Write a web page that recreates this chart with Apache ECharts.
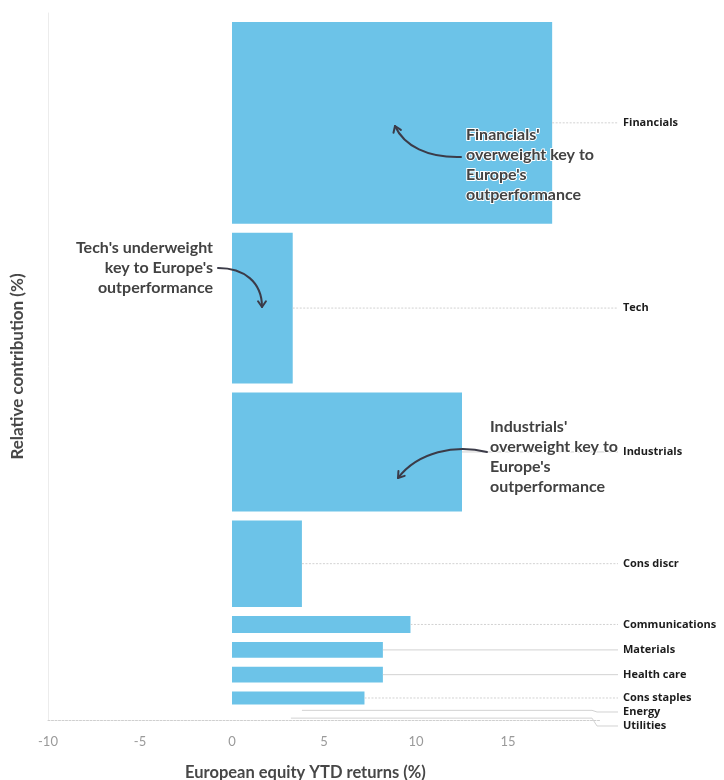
<!DOCTYPE html>
<html>
<head>
<meta charset="utf-8">
<style>
  html, body { margin: 0; padding: 0; background: #fff; }
  #chart { width: 724px; height: 780px; }
</style>
<script src="https://cdn.jsdelivr.net/npm/echarts@6/dist/echarts.min.js"></script>
</head>
<body>
<div id="chart"></div>
<script>
// Data
const sectors = ['Financials', 'Tech', 'Industrials', 'Cons discr', 'Communications', 'Materials', 'Health care', 'Cons staples', 'Energy', 'Utilities'];
const contribution = [29.8, 22.6, 18.1, 13.5, 3.7, 3.5, 3.5, 3.1, 1.1, 1.1]; // Relative contribution (%) -> bar thickness
const ytdReturns = [17.4, 3.3, 12.5, 3.8, 9.7, 8.2, 8.2, 7.2, 3.8, 3.2];     // European equity YTD returns (%)
const dottedLeaders = ['Financials', 'Tech', 'Cons discr', 'Communications', 'Cons staples'];

// Build [start, end, return, index] rows
const rows = [];
let cum = 0;
for (let i = 0; i < sectors.length; i++) {
  rows.push([cum, cum + contribution[i], ytdReturns[i], i]);
  cum += contribution[i];
}

const chart = echarts.init(document.getElementById('chart'));
const FONT = 'Lato, "Open Sans", sans-serif';
const BAR = '#6cc3e8';
const GAP = 9;
const LEADER_END = 618;
let lastLabelY = -Infinity;

function renderItem(params, api) {
  if (params.dataIndex === 0) lastLabelY = -Infinity;
  const start = api.value(0), end = api.value(1), ret = api.value(2);
  const idx = api.value(3);
  const yTop = api.coord([0, start])[1] + GAP;
  const yBot = api.coord([0, end])[1];
  const x0 = api.coord([0, 0])[0];
  const x1 = api.coord([ret, 0])[0];
  const children = [];
  const h = yBot - yTop;
  let cy;
  if (h > 1) {
    children.push({ type: 'rect', shape: { x: x0, y: yTop, width: x1 - x0, height: h }, style: { fill: BAR } });
    cy = (yTop + yBot) / 2;
  } else {
    cy = (api.coord([0, start])[1] + yBot) / 2 + 2;
  }
  const labelY = Math.max(cy, lastLabelY + 14);
  lastLabelY = labelY;
  const dotted = dottedLeaders.indexOf(sectors[idx]) >= 0;
  const lineStyle = { stroke: '#d2d2d2', lineWidth: 1, lineDash: dotted ? [2, 1.5] : null, fill: null };
  let pts;
  if (Math.abs(labelY - cy) < 0.5) {
    pts = [[x1, cy], [LEADER_END, cy]];
  } else {
    pts = [[x1, cy], [592, cy], [597, labelY], [LEADER_END, labelY]];
  }
  children.push({ type: 'polyline', shape: { points: pts }, style: lineStyle, z2: 1 });
  children.push({
    type: 'text',
    style: { x: 623, y: labelY, text: sectors[idx], fill: '#1c1c1c', font: 'bold 11px "Open Sans", Lato, sans-serif', verticalAlign: 'middle', align: 'left' }
  });
  return { type: 'group', children: children };
}

function arrowHead(x, y, angleDeg, size) {
  const a = angleDeg * Math.PI / 180;
  const s = size || 6;
  const p1 = [x - s * Math.cos(a - 0.6), y - s * Math.sin(a - 0.6)];
  const p2 = [x - s * Math.cos(a + 0.6), y - s * Math.sin(a + 0.6)];
  return {
    type: 'polyline', z: 10,
    shape: { points: [p1, [x, y], p2] },
    style: { stroke: '#3b3b48', lineWidth: 2, fill: null, lineJoin: 'round', lineCap: 'round' }
  };
}
function curve(x1, y1, cpx1, cpy1, cpx2, cpy2, x2, y2) {
  return {
    type: 'bezierCurve', z: 10,
    shape: { x1: x1, y1: y1, cpx1: cpx1, cpy1: cpy1, cpx2: cpx2, cpy2: cpy2, x2: x2, y2: y2 },
    style: { stroke: '#3b3b48', lineWidth: 2, fill: null, lineCap: 'round' }
  };
}
function note(x, y, text, align) {
  return {
    type: 'text', z: 11, x: x, y: y,
    style: {
      text: text, fill: '#424242', font: 'bold 16px ' + FONT, lineHeight: 20,
      align: align || 'left', verticalAlign: 'top',
      stroke: '#ffffff', lineWidth: 2
    }
  };
}

const option = {
  backgroundColor: '#ffffff',
  animation: false,
  grid: { left: 48, right: 124, top: 13, bottom: 60 },
  xAxis: {
    type: 'value', min: -10, max: 20, interval: 5,
    axisLine: { show: true, onZero: false, lineStyle: { color: '#cfcfcf', type: [2, 1.5], width: 1 } },
    axisTick: { show: false },
    splitLine: { show: false },
    axisLabel: {
      color: '#9a9a9a', fontFamily: FONT, fontSize: 13, margin: 15,
      formatter: function (v) { return v >= 20 ? '' : String(v); }
    }
  },
  yAxis: {
    type: 'value', min: 0, max: 100, inverse: true,
    name: 'Relative contribution (%)', nameLocation: 'middle', nameGap: 22,
    nameTextStyle: { color: '#474747', fontFamily: FONT, fontSize: 17, fontWeight: 'bold' },
    axisLine: { show: true, onZero: false, lineStyle: { color: '#ececec', width: 1 } },
    axisTick: { show: false },
    axisLabel: { show: false },
    splitLine: { show: false }
  },
  series: [{
    type: 'custom',
    renderItem: renderItem,
    data: rows,
    encode: { x: 2, y: [0, 1] },
    clip: false
  }],
  graphic: [
    { type: 'text', left: 185, top: 764, style: { text: 'European equity YTD returns (%)', fill: '#474747', font: 'bold 16.5px ' + FONT } },
    // Financials annotation
    curve(461, 157, 428, 158, 404, 146, 395, 126),
    arrowHead(395, 126, -112, 7),
    note(466, 125, "Financials'\noverweight key to\nEurope's\noutperformance"),
    // Tech annotation
    curve(218, 268, 244, 268, 262, 282, 262, 307),
    arrowHead(262, 307, 90, 7),
    note(213, 238, "Tech's underweight\nkey to Europe's\noutperformance", 'right'),
    // Industrials annotation
    curve(487, 452, 455, 444, 418, 452, 398, 478),
    arrowHead(398, 478, 128, 7),
    note(490, 417, "Industrials'\noverweight key to\nEurope's\noutperformance")
  ]
};
chart.setOption(option);
</script>
</body>
</html>
